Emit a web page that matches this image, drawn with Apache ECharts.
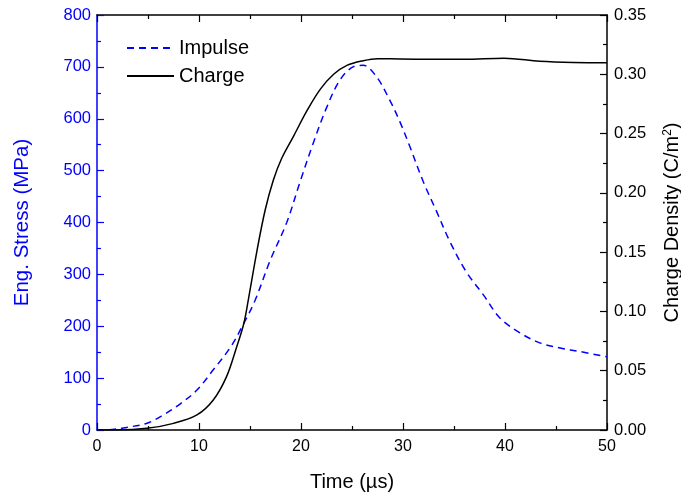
<!DOCTYPE html>
<html><head><meta charset="utf-8">
<script src="https://cdn.jsdelivr.net/npm/echarts@6/dist/echarts.min.js"></script>
<style>html,body{margin:0;padding:0;background:#fff}#c{width:681px;height:496px}</style>
</head><body><div id="c"></div>
<script>
const impulseT = [0, 1.5, 2.9, 4.9, 6.5, 8.2, 9.8, 11.4, 13.1, 14.4, 15.5, 17.0, 18.6, 19.9, 21.2, 22.5, 23.8, 25.1, 26.1, 27.4, 28.7, 29.7, 30.7, 32.0, 33.3, 34.6, 36.2, 37.9, 39.5, 41.5, 43.4, 45.4, 47.4, 50];
const impulseV = [0, 1, 5, 13, 29, 51, 77, 116, 160, 206, 250, 328, 400, 478, 553, 621, 674, 700, 703, 681, 636, 594, 545, 478, 421, 363, 305, 260, 216, 187, 168, 158, 151, 141];
const chargeT = [0, 2, 4.9, 7.5, 9.8, 11.4, 12.7, 13.7, 14.4, 14.9, 15.7, 16.5, 17.3, 18.1, 19.25, 20.6, 21.9, 23.2, 24.5, 26.1, 27.5, 29.7, 33, 36, 39.9, 43.4, 46.7, 50];
const chargeV = [0, 0, 0.0014, 0.0056, 0.0127, 0.0253, 0.045, 0.0703, 0.09, 0.113, 0.152, 0.186, 0.211, 0.229, 0.2475, 0.2695, 0.2875, 0.300, 0.3075, 0.3115, 0.3132, 0.3129, 0.3127, 0.3126, 0.3135, 0.311, 0.310, 0.3098];
const xTicks = {min: 0, max: 50, interval: 10};
const yLeft = {min: 0, max: 800, interval: 100};
const yRight = {min: 0, max: 0.35, interval: 0.05};

const font = 'Liberation Sans, Arial, sans-serif';
const chart = echarts.init(document.getElementById('c'));
const zip = (a, b) => a.map((t, i) => [t, b[i]]);
const tick = c => ({inside: true, length: 7, lineStyle: {color: c, width: 1.2}});
const minor = c => ({show: true, splitNumber: 2, length: 4, lineStyle: {color: c, width: 1.2}});
chart.setOption({
  animation: false,
  grid: {left: 97, right: 74, top: 15, bottom: 66, outerBoundsMode: 'none', containLabel: false},
  legend: {
    left: 121, top: 33, orient: 'vertical', itemWidth: 47, itemHeight: 14, itemGap: 8,
    itemStyle: {opacity: 0},
    textStyle: {fontFamily: font, fontSize: 20, color: '#000'},
    data: ['Impulse', 'Charge']
  },
  xAxis: [{
    type: 'value', min: xTicks.min, max: xTicks.max, interval: xTicks.interval,
    name: 'Time (\u00b5s)', nameLocation: 'middle', nameGap: 42,
    nameTextStyle: {fontFamily: font, fontSize: 20, color: '#000'},
    axisLine: {onZero: false, lineStyle: {color: '#000', width: 1.5}},
    axisTick: tick('#000'), minorTick: minor('#000'),
    axisLabel: {fontFamily: font, fontSize: 16, color: '#000', margin: 9},
    splitLine: {show: false}
  }, {
    type: 'value', position: 'top', min: xTicks.min, max: xTicks.max, interval: xTicks.interval,
    axisLine: {show: true, onZero: false, lineStyle: {color: '#000', width: 1.5}},
    axisTick: tick('#000'), minorTick: minor('#000'),
    axisLabel: {show: false}, splitLine: {show: false}
  }],
  yAxis: [{
    type: 'value', position: 'left', min: yLeft.min, max: yLeft.max, interval: yLeft.interval,
    name: 'Eng. Stress (MPa)', nameLocation: 'middle', nameGap: 64,
    nameTextStyle: {fontFamily: font, fontSize: 20.5, color: '#0000ff'},
    axisLine: {show: true, onZero: false, lineStyle: {color: '#0000ff', width: 1.5}},
    axisTick: tick('#0000ff'), minorTick: minor('#0000ff'),
    axisLabel: {fontFamily: font, fontSize: 16.5, color: '#0000ff', margin: 6},
    splitLine: {show: false}
  }, {
    type: 'value', position: 'right', min: yRight.min, max: yRight.max, interval: yRight.interval,
    name: 'Charge Density (C/m{sup|2})', nameLocation: 'middle', nameGap: 55,
    nameTextStyle: {fontFamily: font, fontSize: 20, color: '#000',
      rich: {sup: {fontFamily: font, fontSize: 12, color: '#000', verticalAlign: 'top', padding: [0, 0, 9, 0]}}},
    axisLine: {show: true, onZero: false, lineStyle: {color: '#000', width: 1.5}},
    axisTick: tick('#000'), minorTick: minor('#000'),
    axisLabel: {fontFamily: font, fontSize: 16.5, color: '#000', margin: 7, formatter: v => v.toFixed(2)},
    splitLine: {show: false}
  }],
  series: [{
    name: 'Impulse', type: 'line', yAxisIndex: 0, showSymbol: false, symbol: 'none', smooth: 0.35,
    data: zip(impulseT, impulseV), itemStyle: {color: '#0000ff'},
    lineStyle: {color: '#0000ff', width: 1.5, type: [7, 5]}
  }, {
    name: 'Charge', type: 'line', yAxisIndex: 1, showSymbol: false, symbol: 'none', smooth: 0.35,
    data: zip(chargeT, chargeV), itemStyle: {color: '#000'},
    lineStyle: {color: '#000', width: 1.5}
  }]
});
</script></body></html>
